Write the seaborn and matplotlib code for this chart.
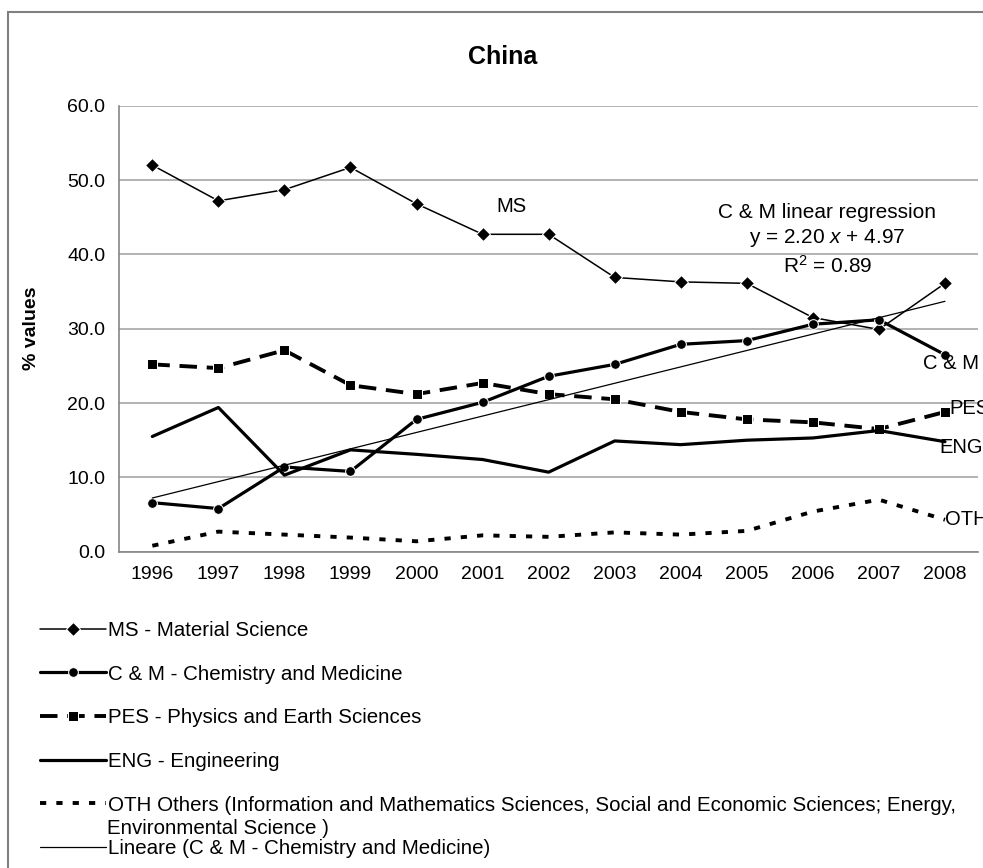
import numpy as np
import matplotlib
matplotlib.use("Agg")
import matplotlib.pyplot as plt
from matplotlib.patches import Rectangle
import seaborn as sns

# values (% of publications, China)
years = [1996, 1997, 1998, 1999, 2000, 2001, 2002, 2003, 2004, 2005, 2006, 2007, 2008]
ms  = [52.0, 47.2, 48.7, 51.7, 46.8, 42.7, 42.7, 36.9, 36.3, 36.1, 31.5, 29.9, 36.1]
cm  = [6.6, 5.8, 11.4, 10.8, 17.8, 20.1, 23.6, 25.2, 27.9, 28.4, 30.6, 31.2, 26.5]
pes = [25.2, 24.7, 27.1, 22.4, 21.2, 22.7, 21.2, 20.5, 18.8, 17.8, 17.4, 16.5, 18.8]
eng = [15.5, 19.4, 10.3, 13.7, 13.1, 12.4, 10.7, 14.9, 14.4, 15.0, 15.3, 16.3, 14.8]
oth = [0.8, 2.7, 2.3, 1.9, 1.4, 2.2, 2.0, 2.6, 2.3, 2.8, 5.4, 7.0, 4.3]

labels = ["MS - Material Science",
          "C & M - Chemistry and Medicine",
          "PES - Physics and Earth Sciences",
          "ENG - Engineering",
          "OTH Others (Information and Mathematics Sciences, Social and Economic Sciences; Energy,",
          "Lineare (C & M - Chemistry and Medicine)"]
oth_cont = "Environmental Science )"

sns.set_style("white")
plt.rcParams['font.family'] = ['Liberation Sans', 'DejaVu Sans']
plt.rcParams['text.color'] = 'black'
plt.rcParams['axes.labelcolor'] = 'black'
plt.rcParams['xtick.color'] = 'black'
plt.rcParams['ytick.color'] = 'black'
plt.rcParams['mathtext.fontset'] = 'custom'
plt.rcParams['mathtext.rm'] = 'Liberation Sans'
plt.rcParams['mathtext.it'] = 'Liberation Sans:italic'

W, H = 983, 868
fig = plt.figure(figsize=(W / 100, H / 100), dpi=100)
ax = fig.add_axes([119.3 / W, 1 - 551.7 / H, (978 - 119.3) / W, (551.7 - 105.7) / H])

grid_c = '#a6a6a6'
ax.yaxis.grid(True, color=grid_c, lw=1.2)
ax.set_axisbelow(True)

sns.lineplot(x=years, y=ms, ax=ax, color='black', lw=1.1, marker='D',
             markersize=7, label=labels[0])
sns.lineplot(x=years, y=cm, ax=ax, color='black', lw=2.3, marker='o',
             markersize=7, label=labels[1])
sns.lineplot(x=years, y=pes, ax=ax, color='black', lw=2.8, marker='s',
             markersize=6.5, linestyle=(0, (4.5, 2.5)), label=labels[2])
sns.lineplot(x=years, y=eng, ax=ax, color='black', lw=2.3, label=labels[3])
sns.lineplot(x=years, y=oth, ax=ax, color='black', lw=2.8,
             linestyle=(0, (1.6, 2.6)), label=labels[4])
sns.regplot(x=np.array(years), y=np.array(cm), ax=ax, ci=None, scatter=False,
            line_kws=dict(color='black', lw=0.9), label=labels[5])

ax.set_ylim(0, 60)
ax.set_xlim(1995.5, 2008.5)
ax.set_yticks(np.arange(0, 61, 10))
ax.set_yticklabels([f"{v:.1f}" for v in np.arange(0, 61, 10)])
ax.set_xticks(years)
ax.set_xticklabels([str(y) for y in years])
ax.set_xticks(np.arange(1995.5, 2009, 1), minor=True)
ax.tick_params(axis='x', which='major', length=0, pad=10, labelsize=14, labelcolor='black')
ax.tick_params(axis='x', which='minor', length=6, width=1, color='#868686', direction='out')
ax.tick_params(axis='y', length=6, width=1, color='#868686', direction='out', pad=4,
               labelsize=14, labelcolor='black')
ax.set_xlabel("")
ax.set_ylabel("% values", fontsize=14, fontweight='bold', color='black')
ax.yaxis.set_label_coords(-0.0923, 0.5)

for s in ['top', 'right']:
    ax.spines[s].set_visible(False)
for s in ['left', 'bottom']:
    ax.spines[s].set_color('#868686')
    ax.spines[s].set_linewidth(1.2)

# annotations
ax.text(2001.44, 46.4, "MS", fontsize=14.5, ha='center', va='center')
ax.text(2006.22, 45.6, "C & M linear regression", fontsize=15, ha='center', va='center')
ax.text(2006.22, 42.2, "y = 2.20 $x$ + 4.97", fontsize=15, ha='center', va='center')
ax.text(2006.22, 38.4, "R$^2$ = 0.89", fontsize=15, ha='center', va='center')
ax.text(2007.66, 25.3, "C & M", fontsize=14.5, ha='left', va='center', clip_on=False)
ax.text(2008.07, 19.3, "PES", fontsize=14.5, ha='left', va='center', clip_on=False)
ax.text(2007.92, 14.0, "ENG", fontsize=14.5, ha='left', va='center', clip_on=False)
ax.text(2008.0, 4.3, "OTH", fontsize=14.5, ha='left', va='center', clip_on=False)

fig.text(503 / W, 1 - 57 / H, "China", fontsize=18, fontweight='bold',
         ha='center', va='center')

# legend below the plot
handles, labs = ax.get_legend_handles_labels()
if ax.get_legend():
    ax.get_legend().remove()
fig.legend(handles, labs, loc='upper left', bbox_to_anchor=(40 / W, 1 - 621 / H),
           frameon=False, fontsize=14.8, handlelength=3.2, handletextpad=0.12,
           labelspacing=1.2, borderpad=0, borderaxespad=0)
fig.text(107 / W, 1 - 828 / H, oth_cont, fontsize=14.8, ha='left', va='center')

# outer chart frame
fig.patches.append(Rectangle((8 / W, -0.1), 1.2, 1.1 - 12 / H, transform=fig.transFigure,
                             fill=False, edgecolor='#808080', lw=1.5))

fig.savefig("out.png", dpi=100)
